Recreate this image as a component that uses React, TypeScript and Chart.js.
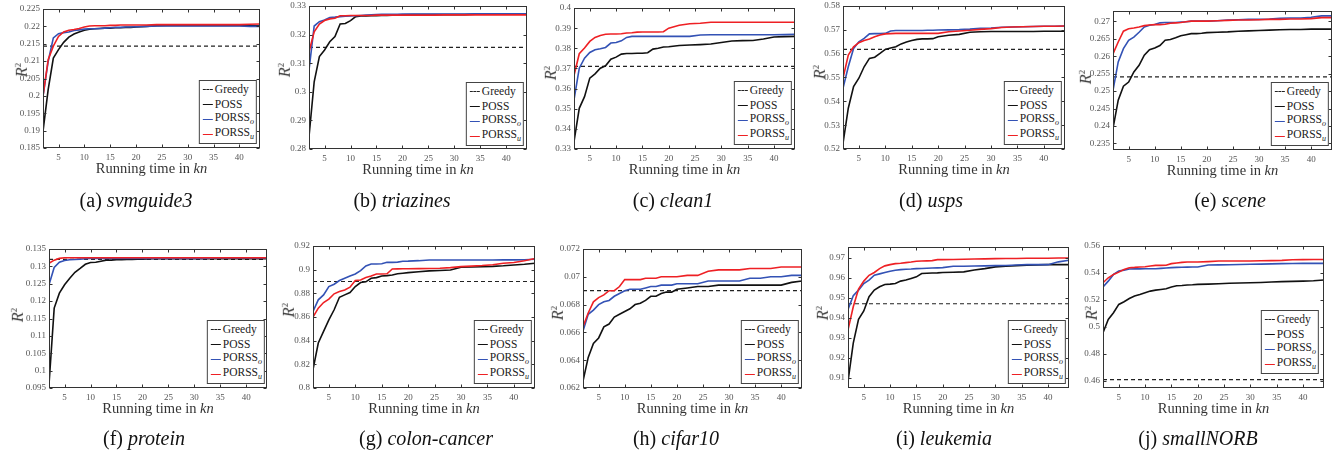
import React, { useEffect, useRef } from "react";
import { Chart, registerables } from "chart.js";

Chart.register(...registerables);

// ---------------- DATA ----------------
const XS = [2, 3, 4, 5, 6, 7, 8, 9, 10, 11, 12, 13, 14, 15, 16, 17, 18, 19, 20, 22, 24, 26, 28, 30, 32, 34, 36, 38, 40, 42, 44];
const X_RANGE = [2, 44];
const X_TICKS = [5, 10, 15, 20, 25, 30, 35, 40];

// (a) svmguide3
const A_GREEDY = 0.2143;
const A_POSS = [0.1898, 0.2018, 0.2109, 0.2133, 0.2154, 0.2169, 0.2178, 0.2184, 0.2189, 0.2192, 0.2193, 0.2194, 0.2195, 0.2195, 0.2196, 0.2196, 0.2197, 0.2197, 0.2198,
  0.2200, 0.2202, 0.2203, 0.2203, 0.2203, 0.2203, 0.2203, 0.2203, 0.2203, 0.2203, 0.2202, 0.2202];
const A_PORSS_O = [0.1999, 0.2099, 0.2167, 0.2179, 0.2182, 0.2184, 0.2188, 0.2190, 0.2192, 0.2193, 0.2193, 0.2194, 0.2195, 0.2196, 0.2197, 0.2197, 0.2198, 0.2198, 0.2199,
  0.2200, 0.2201, 0.2201, 0.2201, 0.2201, 0.2201, 0.2201, 0.2201, 0.2201, 0.2201, 0.2200, 0.2200];
const A_PORSS_U = [0.1999, 0.2104, 0.2143, 0.2171, 0.2184, 0.2189, 0.2191, 0.2194, 0.2198, 0.2201, 0.2202, 0.2202, 0.2202, 0.2203, 0.2203, 0.2204, 0.2204, 0.2204, 0.2204,
  0.2204, 0.2205, 0.2205, 0.2205, 0.2205, 0.2205, 0.2205, 0.2205, 0.2205, 0.2205, 0.2206, 0.2207];
const A_RANGE = [0.185, 0.225];
const A_YTICKS = [0.185, 0.19, 0.195, 0.2, 0.205, 0.21, 0.215, 0.22, 0.225];

// (b) triazines
const B_GREEDY = 0.3155;
const B_POSS = [0.2843, 0.3035, 0.3123, 0.3146, 0.3175, 0.3193, 0.3237, 0.3239, 0.3249, 0.3263, 0.3265, 0.3265, 0.3266, 0.3266, 0.3267, 0.3267, 0.3268, 0.3268, 0.3269,
  0.3270, 0.3270, 0.3270, 0.3270, 0.3270, 0.3270, 0.3271, 0.3271, 0.3271, 0.3271, 0.3271, 0.3271];
const B_PORSS_O = [0.3076, 0.3230, 0.3245, 0.3251, 0.3260, 0.3261, 0.3263, 0.3264, 0.3265, 0.3266, 0.3267, 0.3268, 0.3269, 0.3270, 0.3271, 0.3271, 0.3271, 0.3271, 0.3272,
  0.3272, 0.3272, 0.3272, 0.3272, 0.3272, 0.3272, 0.3273, 0.3273, 0.3273, 0.3273, 0.3273, 0.3273];
const B_PORSS_U = [0.3140, 0.3210, 0.3237, 0.3249, 0.3255, 0.3257, 0.3266, 0.3266, 0.3267, 0.3267, 0.3267, 0.3267, 0.3267, 0.3268, 0.3268, 0.3268, 0.3268, 0.3268, 0.3268,
  0.3268, 0.3268, 0.3268, 0.3269, 0.3269, 0.3269, 0.3269, 0.3269, 0.3269, 0.3269, 0.3269, 0.3269];
const B_RANGE = [0.28, 0.33];
const B_YTICKS = [0.28, 0.29, 0.3, 0.31, 0.32, 0.33];

// (c) clean1
const C_GREEDY = 0.371;
const C_POSS = [0.3337, 0.3502, 0.3560, 0.3652, 0.3673, 0.3701, 0.3713, 0.3746, 0.3756, 0.3771, 0.3774, 0.3774, 0.3775, 0.3775, 0.3778, 0.3796, 0.3800, 0.3806, 0.3808,
  0.3814, 0.3816, 0.3818, 0.3821, 0.3829, 0.3836, 0.3838, 0.3839, 0.3846, 0.3856, 0.3858, 0.3859];
const C_PORSS_O = [0.3544, 0.3701, 0.3751, 0.3779, 0.3793, 0.3798, 0.3804, 0.3826, 0.3829, 0.3837, 0.3854, 0.3859, 0.3859, 0.3859, 0.3859, 0.3859, 0.3859, 0.3859, 0.3859,
  0.3859, 0.3859, 0.3866, 0.3867, 0.3867, 0.3867, 0.3867, 0.3867, 0.3867, 0.3867, 0.3868, 0.3870];
const C_PORSS_U = [0.3665, 0.3773, 0.3801, 0.3834, 0.3854, 0.3864, 0.3870, 0.3871, 0.3871, 0.3872, 0.3876, 0.3877, 0.3880, 0.3881, 0.3881, 0.3881, 0.3881, 0.3882, 0.3900,
  0.3914, 0.3922, 0.3924, 0.3929, 0.3929, 0.3929, 0.3929, 0.3929, 0.3929, 0.3929, 0.3929, 0.3929];
const C_RANGE = [0.33, 0.4];
const C_YTICKS = [0.33, 0.34, 0.35, 0.36, 0.37, 0.38, 0.39, 0.4];

// (d) usps
const D_GREEDY = 0.5618;
const D_POSS = [0.5224, 0.5371, 0.5462, 0.5497, 0.5545, 0.5580, 0.5585, 0.5601, 0.5618, 0.5624, 0.5629, 0.5641, 0.5649, 0.5655, 0.5660, 0.5662, 0.5662, 0.5663, 0.5671,
  0.5677, 0.5681, 0.5690, 0.5692, 0.5693, 0.5693, 0.5693, 0.5693, 0.5693, 0.5694, 0.5694, 0.5694];
const D_PORSS_O = [0.5455, 0.5545, 0.5622, 0.5650, 0.5664, 0.5683, 0.5684, 0.5684, 0.5685, 0.5695, 0.5697, 0.5697, 0.5697, 0.5697, 0.5697, 0.5697, 0.5698, 0.5698, 0.5699,
  0.5700, 0.5701, 0.5703, 0.5706, 0.5708, 0.5711, 0.5712, 0.5713, 0.5714, 0.5715, 0.5715, 0.5716];
const D_PORSS_U = [0.5497, 0.5594, 0.5629, 0.5646, 0.5655, 0.5662, 0.5671, 0.5678, 0.5683, 0.5684, 0.5685, 0.5685, 0.5685, 0.5685, 0.5685, 0.5685, 0.5685, 0.5685, 0.5685,
  0.5692, 0.5695, 0.5698, 0.5702, 0.5705, 0.5710, 0.5712, 0.5713, 0.5714, 0.5715, 0.5715, 0.5716];
const D_RANGE = [0.52, 0.58];
const D_YTICKS = [0.52, 0.53, 0.54, 0.55, 0.56, 0.57, 0.58];

// (e) scene
const E_GREEDY = 0.2541;
const E_POSS = [0.2393, 0.2474, 0.2514, 0.2526, 0.2555, 0.2574, 0.2603, 0.2619, 0.2624, 0.2631, 0.2646, 0.2648, 0.2653, 0.2659, 0.2662, 0.2665, 0.2665, 0.2666, 0.2668,
  0.2669, 0.2670, 0.2672, 0.2673, 0.2674, 0.2675, 0.2676, 0.2677, 0.2677, 0.2678, 0.2678, 0.2678];
const E_PORSS_O = [0.2502, 0.2584, 0.2622, 0.2646, 0.2655, 0.2669, 0.2684, 0.2689, 0.2691, 0.2696, 0.2697, 0.2697, 0.2697, 0.2698, 0.2699, 0.2701, 0.2701, 0.2701, 0.2701,
  0.2702, 0.2704, 0.2705, 0.2706, 0.2706, 0.2707, 0.2709, 0.2710, 0.2710, 0.2712, 0.2716, 0.2716];
const E_PORSS_U = [0.2607, 0.2641, 0.2672, 0.2679, 0.2681, 0.2684, 0.2688, 0.2690, 0.2691, 0.2691, 0.2692, 0.2695, 0.2696, 0.2697, 0.2699, 0.2701, 0.2701, 0.2701, 0.2701,
  0.2702, 0.2703, 0.2704, 0.2704, 0.2705, 0.2706, 0.2706, 0.2707, 0.2707, 0.2708, 0.2711, 0.2711];
const E_RANGE = [0.2331, 0.273];
const E_YTICKS = [0.235, 0.24, 0.245, 0.25, 0.255, 0.26, 0.265, 0.27];

// (f) protein
const F_GREEDY = 0.132;
const F_POSS = [0.0960, 0.1180, 0.1223, 0.1247, 0.1266, 0.1283, 0.1294, 0.1306, 0.1311, 0.1312, 0.1315, 0.1318, 0.1318, 0.1319, 0.1319, 0.1320, 0.1320, 0.1321, 0.1321,
  0.1322, 0.1322, 0.1322, 0.1322, 0.1322, 0.1322, 0.1322, 0.1322, 0.1322, 0.1322, 0.1322, 0.1322];
const F_PORSS_O = [0.1247, 0.1297, 0.1312, 0.1317, 0.1319, 0.1320, 0.1321, 0.1322, 0.1323, 0.1323, 0.1323, 0.1323, 0.1323, 0.1323, 0.1323, 0.1323, 0.1323, 0.1323, 0.1323,
  0.1323, 0.1323, 0.1323, 0.1323, 0.1323, 0.1323, 0.1324, 0.1324, 0.1324, 0.1324, 0.1324, 0.1324];
const F_PORSS_U = [0.1309, 0.1318, 0.1323, 0.1325, 0.1325, 0.1325, 0.1325, 0.1325, 0.1325, 0.1325, 0.1325, 0.1325, 0.1325, 0.1325, 0.1325, 0.1325, 0.1325, 0.1325, 0.1325,
  0.1325, 0.1325, 0.1325, 0.1325, 0.1325, 0.1325, 0.1325, 0.1325, 0.1325, 0.1325, 0.1325, 0.1325];
const F_RANGE = [0.095, 0.135];
const F_YTICKS = [0.095, 0.1, 0.105, 0.11, 0.115, 0.12, 0.125, 0.13, 0.135];

// (g) colon-cancer
const G_GREEDY = 0.89;
const G_POSS = [0.8155, 0.8380, 0.8478, 0.8576, 0.8661, 0.8767, 0.8787, 0.8807, 0.8857, 0.8891, 0.8897, 0.8927, 0.8933, 0.8947, 0.8950, 0.8955, 0.8965, 0.8970, 0.8975,
  0.8983, 0.8990, 0.8993, 0.8997, 0.9020, 0.9022, 0.9025, 0.9028, 0.9033, 0.9040, 0.9046, 0.9054];
const G_PORSS_O = [0.8647, 0.8745, 0.8787, 0.8857, 0.8877, 0.8908, 0.8927, 0.8947, 0.8964, 0.8992, 0.9031, 0.9048, 0.9048, 0.9050, 0.9062, 0.9062, 0.9064, 0.9071, 0.9072,
  0.9076, 0.9082, 0.9082, 0.9082, 0.9082, 0.9082, 0.9082, 0.9082, 0.9083, 0.9083, 0.9084, 0.9088];
const G_PORSS_U = [0.8599, 0.8675, 0.8722, 0.8751, 0.8796, 0.8815, 0.8829, 0.8852, 0.8908, 0.8913, 0.8933, 0.8947, 0.8964, 0.8964, 0.8965, 0.9006, 0.9007, 0.9008, 0.9008,
  0.9009, 0.9010, 0.9012, 0.9017, 0.9026, 0.9030, 0.9035, 0.9042, 0.9054, 0.9060, 0.9076, 0.9095];
const G_RANGE = [0.8, 0.92];
const G_YTICKS = [0.8, 0.82, 0.84, 0.86, 0.88, 0.9, 0.92];

// (h) cifar10
const H_GREEDY = 0.069;
const H_POSS = [0.0625, 0.0642, 0.0652, 0.0656, 0.0664, 0.0666, 0.0671, 0.0673, 0.0675, 0.0677, 0.0680, 0.0681, 0.0683, 0.0686, 0.0686, 0.0688, 0.0689, 0.0689, 0.0691,
  0.0692, 0.0693, 0.0693, 0.0694, 0.0694, 0.0694, 0.0694, 0.0694, 0.0694, 0.0694, 0.0696, 0.0697];
const H_PORSS_O = [0.0661, 0.0673, 0.0676, 0.0680, 0.0682, 0.0683, 0.0686, 0.0688, 0.0690, 0.0691, 0.0691, 0.0691, 0.0692, 0.0693, 0.0693, 0.0694, 0.0694, 0.0694, 0.0695,
  0.0695, 0.0695, 0.0697, 0.0697, 0.0697, 0.0697, 0.0699, 0.0699, 0.0700, 0.0700, 0.0701, 0.0701];
const H_PORSS_U = [0.0664, 0.0674, 0.0682, 0.0685, 0.0687, 0.0690, 0.0690, 0.0693, 0.0698, 0.0698, 0.0698, 0.0698, 0.0699, 0.0699, 0.0699, 0.0700, 0.0700, 0.0700, 0.0700,
  0.0701, 0.0701, 0.0704, 0.0705, 0.0705, 0.0705, 0.0706, 0.0706, 0.0706, 0.0707, 0.0707, 0.0707];
const H_RANGE = [0.062, 0.072];
const H_YTICKS = [0.062, 0.064, 0.066, 0.068, 0.07, 0.072];

// (i) leukemia
const I_GREEDY = 0.947;
const I_POSS = [0.9083, 0.9274, 0.9393, 0.9434, 0.9505, 0.9538, 0.9555, 0.9566, 0.9568, 0.9571, 0.9583, 0.9588, 0.9596, 0.9604, 0.9621, 0.9622, 0.9623, 0.9624, 0.9626,
  0.9627, 0.9629, 0.9638, 0.9645, 0.9654, 0.9657, 0.9660, 0.9662, 0.9664, 0.9665, 0.9665, 0.9665];
const I_PORSS_O = [0.9442, 0.9510, 0.9538, 0.9571, 0.9588, 0.9612, 0.9619, 0.9626, 0.9632, 0.9637, 0.9640, 0.9642, 0.9643, 0.9645, 0.9646, 0.9647, 0.9648, 0.9649, 0.9650,
  0.9657, 0.9657, 0.9658, 0.9659, 0.9660, 0.9661, 0.9663, 0.9665, 0.9665, 0.9665, 0.9679, 0.9687];
const I_PORSS_U = [0.9340, 0.9455, 0.9543, 0.9583, 0.9612, 0.9626, 0.9645, 0.9659, 0.9665, 0.9670, 0.9672, 0.9675, 0.9678, 0.9682, 0.9683, 0.9684, 0.9685, 0.9690, 0.9690,
  0.9691, 0.9692, 0.9693, 0.9694, 0.9695, 0.9696, 0.9696, 0.9697, 0.9697, 0.9697, 0.9698, 0.9698];
const I_RANGE = [0.905, 0.9753];
const I_YTICKS = [0.91, 0.92, 0.93, 0.94, 0.95, 0.96, 0.97];

// (j) smallNORB
const J_GREEDY = 0.4607;
const J_POSS = [0.4955, 0.5054, 0.5104, 0.5166, 0.5186, 0.5210, 0.5228, 0.5240, 0.5253, 0.5265, 0.5272, 0.5277, 0.5282, 0.5295, 0.5305, 0.5307, 0.5310, 0.5312, 0.5315,
  0.5317, 0.5320, 0.5323, 0.5325, 0.5327, 0.5329, 0.5332, 0.5335, 0.5337, 0.5339, 0.5342, 0.5347];
const J_PORSS_O = [0.5295, 0.5339, 0.5389, 0.5414, 0.5421, 0.5429, 0.5430, 0.5430, 0.5431, 0.5431, 0.5431, 0.5434, 0.5437, 0.5439, 0.5441, 0.5442, 0.5443, 0.5444, 0.5444,
  0.5459, 0.5460, 0.5461, 0.5462, 0.5464, 0.5465, 0.5467, 0.5469, 0.5470, 0.5471, 0.5471, 0.5471];
const J_PORSS_U = [0.5327, 0.5364, 0.5389, 0.5406, 0.5426, 0.5439, 0.5441, 0.5444, 0.5446, 0.5451, 0.5456, 0.5456, 0.5457, 0.5469, 0.5474, 0.5478, 0.5481, 0.5481, 0.5481,
  0.5484, 0.5488, 0.5489, 0.5489, 0.5489, 0.5490, 0.5491, 0.5493, 0.5498, 0.5499, 0.5500, 0.5500];
const J_RANGE = [0.4545, 0.56];
const J_YTICKS = [0.46, 0.48, 0.5, 0.52, 0.54, 0.56];

// ---------------- STYLE / LAYOUT ----------------
const FONT = "'Liberation Serif', 'Times New Roman', serif";
const COL_POSS = "#111111";
const COL_O = "#3352b5";
const COL_U = "#ee2024";
const COL_GREEDY = "#222222";
const YAXW = 40;
const XAXH = 20;
const PADT = 8;
const PADR = 6;

type Panel = {
  tag: string; name: string;
  greedy: number; poss: number[]; o: number[]; u: number[];
  range: number[]; yticks: number[];
  l: number; r: number; t: number; b: number;
  ylx: number; yly: number; capx: number;
  legR: number; legB: number;
};

const TOP_CAP_Y = 200;
const BOT_CAP_Y = 438;

const PANELS: Panel[] = [
  { tag: "a", name: "svmguide3", greedy: A_GREEDY, poss: A_POSS, o: A_PORSS_O, u: A_PORSS_U, range: A_RANGE, yticks: A_YTICKS, l: 43, r: 260, t: 9, b: 148, ylx: 22, yly: 70, capx: 136, legR: 3, legB: 4 },
  { tag: "b", name: "triazines", greedy: B_GREEDY, poss: B_POSS, o: B_PORSS_O, u: B_PORSS_U, range: B_RANGE, yticks: B_YTICKS, l: 309, r: 527, t: 6, b: 149, ylx: 285, yly: 70, capx: 402, legR: 3, legB: 3 },
  { tag: "c", name: "clean1", greedy: C_GREEDY, poss: C_POSS, o: C_PORSS_O, u: C_PORSS_U, range: C_RANGE, yticks: C_YTICKS, l: 574, r: 795, t: 8, b: 149, ylx: 551, yly: 73, capx: 673, legR: 3, legB: 4 },
  { tag: "d", name: "usps", greedy: D_GREEDY, poss: D_POSS, o: D_PORSS_O, u: D_PORSS_U, range: D_RANGE, yticks: D_YTICKS, l: 843, r: 1065, t: 6, b: 149, ylx: 820, yly: 72, capx: 931, legR: 3, legB: 4 },
  { tag: "e", name: "scene", greedy: E_GREEDY, poss: E_POSS, o: E_PORSS_O, u: E_PORSS_U, range: E_RANGE, yticks: E_YTICKS, l: 1113, r: 1332, t: 11, b: 150, ylx: 1086, yly: 77, capx: 1230, legR: 3, legB: 4 },
  { tag: "f", name: "protein", greedy: F_GREEDY, poss: F_POSS, o: F_PORSS_O, u: F_PORSS_U, range: F_RANGE, yticks: F_YTICKS, l: 49, r: 267, t: 249, b: 388, ylx: 18, yly: 315, capx: 144, legR: 2, legB: 4 },
  { tag: "g", name: "colon-cancer", greedy: G_GREEDY, poss: G_POSS, o: G_PORSS_O, u: G_PORSS_U, range: G_RANGE, yticks: G_YTICKS, l: 313, r: 535, t: 246, b: 388, ylx: 289, yly: 310, capx: 426, legR: 3, legB: 4 },
  { tag: "h", name: "cifar10", greedy: H_GREEDY, poss: H_POSS, o: H_PORSS_O, u: H_PORSS_U, range: H_RANGE, yticks: H_YTICKS, l: 583, r: 802, t: 249, b: 388, ylx: 558, yly: 313, capx: 676, legR: 3, legB: 4 },
  { tag: "i", name: "leukemia", greedy: I_GREEDY, poss: I_POSS, o: I_PORSS_O, u: I_PORSS_U, range: I_RANGE, yticks: I_YTICKS, l: 848, r: 1069, t: 247, b: 388, ylx: 823, yly: 313, capx: 944, legR: 3, legB: 4 },
  { tag: "j", name: "smallNORB", greedy: J_GREEDY, poss: J_POSS, o: J_PORSS_O, u: J_PORSS_U, range: J_RANGE, yticks: J_YTICKS, l: 1103, r: 1324, t: 246, b: 388, ylx: 1092, yly: 313, capx: 1198, legR: 5, legB: 14 },
];

const fmt = (v: number) => String(Number(v.toFixed(4)));

// Box with inward ticks on all four sides (MATLAB style)
const framePlugin = {
  id: "frameTicks",
  afterDraw(chart: any) {
    const { ctx, chartArea: a, scales } = chart;
    const xs = scales.x, ys = scales.y;
    ctx.save();
    ctx.strokeStyle = "#333";
    ctx.lineWidth = 1;
    const L = Math.round(a.left) + 0.5, R = Math.round(a.right) - 0.5;
    const T = Math.round(a.top) + 0.5, B = Math.round(a.bottom) - 0.5;
    ctx.strokeRect(L, T, R - L, B - T);
    const tl = 3;
    ctx.beginPath();
    xs.ticks.forEach((t: any) => {
      const px = Math.round(xs.getPixelForValue(t.value)) + 0.5;
      ctx.moveTo(px, B); ctx.lineTo(px, B - tl);
      ctx.moveTo(px, T); ctx.lineTo(px, T + tl);
    });
    ys.ticks.forEach((t: any) => {
      const py = Math.round(ys.getPixelForValue(t.value)) + 0.5;
      ctx.moveTo(L, py); ctx.lineTo(L + tl, py);
      ctx.moveTo(R, py); ctx.lineTo(R - tl, py);
    });
    ctx.stroke();
    ctx.restore();
  },
};

function PanelChart({ p }: { p: Panel }) {
  const ref = useRef<HTMLCanvasElement>(null);
  const w = p.r - p.l + YAXW + PADR;
  const h = p.b - p.t + PADT + XAXH;
  useEffect(() => {
    const pts = (arr: number[]) => XS.map((x, i) => ({ x, y: arr[i] }));
    const line = (label: string, data: any[], color: string, extra: any = {}) => ({
      label, data, borderColor: color, backgroundColor: color, borderWidth: 1.6,
      pointRadius: 0, tension: 0, fill: false, ...extra,
    });
    const chart = new Chart(ref.current!, {
      type: "line",
      data: {
        datasets: [
          line("PORSS_u", pts(p.u), COL_U),
          line("PORSS_o", pts(p.o), COL_O),
          line("POSS", pts(p.poss), COL_POSS),
          line("Greedy", [{ x: X_RANGE[0], y: p.greedy }, { x: X_RANGE[1], y: p.greedy }], COL_GREEDY, { borderDash: [4, 3], borderWidth: 1.2 }),
        ] as any,
      },
      options: {
        animation: false,
        responsive: false,
        devicePixelRatio: 1,
        layout: { padding: { top: PADT, right: PADR, left: 0, bottom: 0 } },
        plugins: { legend: { display: false }, tooltip: { enabled: false } },
        scales: {
          x: {
            type: "linear", min: X_RANGE[0], max: X_RANGE[1],
            grid: { display: false, drawTicks: false }, border: { display: false },
            ticks: { font: { family: FONT, size: 9 }, color: "#555", padding: 4, maxRotation: 0, autoSkip: false, callback: (v: any) => String(v) },
            afterBuildTicks: (s: any) => { s.ticks = X_TICKS.map((v) => ({ value: v })); },
            afterFit: (s: any) => { s.height = XAXH; s.paddingLeft = 0; s.paddingRight = 0; },
          },
          y: {
            type: "linear", min: p.range[0], max: p.range[1],
            grid: { display: false, drawTicks: false }, border: { display: false },
            ticks: { font: { family: FONT, size: 9 }, color: "#555", padding: 3, autoSkip: false, callback: (v: any) => fmt(Number(v)) },
            afterBuildTicks: (s: any) => { s.ticks = p.yticks.map((v) => ({ value: v })); },
            afterFit: (s: any) => { s.width = YAXW; s.paddingTop = 0; s.paddingBottom = 0; },
          },
        },
      } as any,
      plugins: [framePlugin],
    });
    return () => chart.destroy();
  }, []);

  const cx = (p.l + p.r) / 2;
  const axisY = p.b + 20;
  const capY = p.t < 100 ? TOP_CAP_Y : BOT_CAP_Y;
  const txt: React.CSSProperties = { position: "absolute", fontFamily: FONT, whiteSpace: "nowrap", lineHeight: 1, transform: "translate(-50%,-50%)" };

  const legRow = (label: React.ReactNode, color: string, dashed = false) => (
    <div style={{ display: "flex", alignItems: "center", height: 15 }}>
      <span style={{ display: "inline-block", width: 10, borderTop: dashed ? `1.3px dashed ${color}` : `1.6px solid ${color}` }} />
      <span style={{ marginLeft: 2, fontSize: 11.5, color: "#222" }}>{label}</span>
    </div>
  );

  return (
    <>
      <canvas ref={ref} width={w} height={h}
        style={{ position: "absolute", left: p.l - YAXW, top: p.t - PADT, width: w, height: h }} />
      <div style={{ ...txt, left: p.ylx, top: p.yly, fontSize: 16, color: "#333", transform: "translate(-50%,-50%) rotate(-90deg)" }}>
        <i>R</i><sup style={{ fontSize: 9 }}>2</sup>
      </div>
      <div style={{ ...txt, left: cx, top: axisY, fontSize: 14.5, color: "#333" }}>
        Running time in <i>kn</i>
      </div>
      <div style={{ ...txt, left: p.capx, top: capY, fontSize: 20, color: "#111" }}>
        ({p.tag}) <i>{p.name}</i>
      </div>
      <div style={{
        position: "absolute", left: p.r - p.legR, top: p.b - p.legB, transform: "translate(-100%,-100%)",
        border: "1px solid #444", background: "#fff", padding: "1px 2px 1px 3px", fontFamily: FONT, lineHeight: 1,
      }}>
        {legRow("Greedy", COL_GREEDY, true)}
        {legRow("POSS", COL_POSS)}
        {legRow(<>PORSS<sub style={{ fontSize: 8, fontStyle: "italic" }}>o</sub></>, COL_O)}
        {legRow(<>PORSS<sub style={{ fontSize: 8, fontStyle: "italic" }}>u</sub></>, COL_U)}
      </div>
    </>
  );
}

export default function App() {
  return (
    <div style={{ position: "absolute", left: 0, top: 0, width: 1343, height: 453, background: "#fff", overflow: "hidden" }}>
      {PANELS.map((p) => <PanelChart key={p.tag} p={p} />)}
    </div>
  );
}
